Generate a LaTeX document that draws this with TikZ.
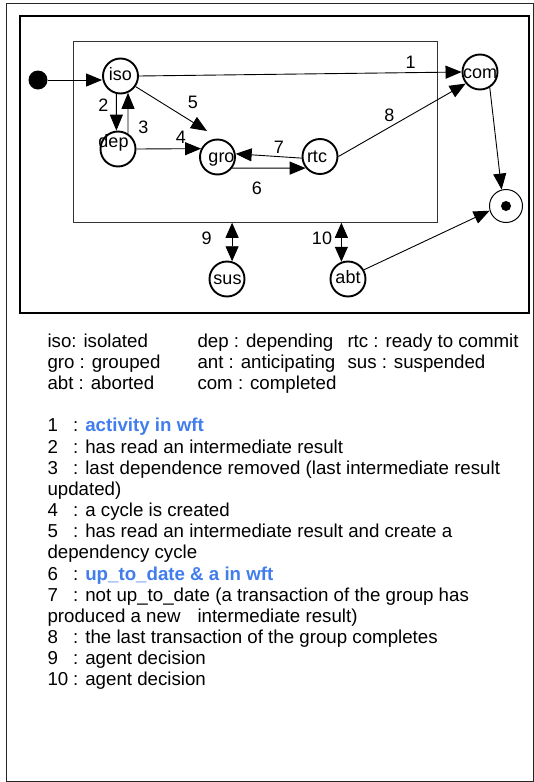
\documentclass[tikz,border=0pt]{standalone}
\usepackage{fontspec}
\setmainfont{Liberation Sans}
\usetikzlibrary{arrows.meta}
\definecolor{lblue}{RGB}{66,125,238}
\begin{document}
\begin{tikzpicture}[x=1pt,y=-1pt,
 st/.style={circle,draw,line width=1.9pt,minimum size=35pt,inner sep=0pt},
 lab/.style={anchor=base,inner sep=0pt,font=\fontsize{18}{18}\selectfont},
 num/.style={anchor=base,inner sep=0pt,font=\fontsize{18}{18}\selectfont},
 arr/.style={-{Triangle[length=16pt,width=13pt]},line width=0.9pt},
 darr/.style={{Triangle[length=15pt,width=13pt]}-{Triangle[length=15pt,width=13pt]},line width=0.9pt},
 leg/.style={anchor=base west,inner sep=0pt,font=\fontsize{18.7}{21}\selectfont}
]
\useasboundingbox (0,0) rectangle (534,782);
\fill[white] (0,0) rectangle (534,782);
% frames
\draw[line width=1pt,black!85] (6,3.5) rectangle (533.5,781);
\draw[line width=2pt] (20,16) rectangle (528.5,313);
\node[draw,line width=1pt,black!80,minimum width=364.4pt,minimum height=180.5pt,inner sep=0pt] (grp) at (255.5,132) {};
% states
\node[circle,fill,minimum size=19pt,inner sep=0pt] (ini) at (38,80) {};
\node[st] (iso) at (120.5,76) {};
\node[st] (dep) at (118,149) {};
\node[st] (gro) at (217.5,157) {};
\node[st] (rtc) at (320,156.5) {};
\node[st] (com) at (480,72) {};
\node[st] (sus) at (227,279) {};
\node[st] (abt) at (348,279) {};
\node[circle,draw,line width=1pt,minimum size=33pt,inner sep=0pt] (fin) at (506,206) {};
\node[circle,fill,minimum size=10pt,inner sep=0pt] (find) at (fin.center) {};
% state labels
\node[lab] (tiso) at (120.5,80.6) {iso};
\node[lab] (tdep) at (113.5,147.6) {dep};
\node[lab] (tgro) at (221.5,162.6) {gro};
\node[lab] (trtc) at (317,162.6) {rtc};
\node[lab] (tcom) at (480,78.6) {com};
\node[lab] (tsus) at (227.5,284.6) {sus};
\node[lab] (tabt) at (348,283.6) {abt};
% edges
\coordinate (g5) at (207,131);
\draw[arr] (ini.east) -- (ini.east -| iso.west);
\draw[arr] (iso.east) -- (com.west);
\draw[arr] (iso.257) -- (dep.95);
\draw[arr] (dep.57) -- (iso.294);
\draw[arr] (dep.east) -- (gro.153);
\draw[arr] (iso.-35) -- (g5);
\draw[arr] (gro.-37) -- (rtc.219);
\draw[arr] (rtc.185) -- (gro.10);
\draw[arr] (rtc.east) -- (com.219);
\draw[arr] (com.-58) -- (fin.105);
\draw[arr] (abt.30) -- (fin.196);
\draw[darr] (grp.south -| sus.74) -- (sus.74);
\draw[darr] (grp.south -| abt.111) -- (abt.111);
% edge labels
\node[num] (n1) at (410.7,68) {1};
\node[num] (n2) at (103.3,111) {2};
\node[num] (n3) at (143.3,133.5) {3};
\node[num] (n4) at (181,143.5) {4};
\node[num] (n5) at (193,108.7) {5};
\node[num] (n6) at (257,194.5) {6};
\node[num] (n7) at (279,153) {7};
\node[num] (n8) at (389.3,121) {8};
\node[num] (n9) at (206.7,244.5) {9};
\node[num] (n10) at (322,244.5) {10};
% legend
\node[leg] (a1) at (47.3,347.2) {iso: isolated};
\node[leg] (a2) at (197.3,347.2) {dep : depending};
\node[leg] (a3) at (347.3,347.2) {rtc : ready to commit};
\node[leg] (b1) at (47.3,368.4) {gro : grouped};
\node[leg] (b2) at (197.3,368.4) {ant : anticipating};
\node[leg] (b3) at (347.3,368.4) {sus : suspended};
\node[leg] (c1) at (47.3,389.5) {abt : aborted};
\node[leg] (c2) at (197.3,389.5) {com : completed};
\node[leg] (k1) at (47.3,431.9) {1};
\node[leg] (d1) at (73,431.9) {: \textcolor{lblue}{\bfseries activity in wft}};
\node[leg] (k2) at (47.3,453.1) {2};
\node[leg] (d2) at (73,453.1) {: has read an intermediate result};
\node[leg] (k3) at (47.3,474.2) {3};
\node[leg] (d3) at (73,474.2) {: last dependence removed (last intermediate result};
\node[leg] (d3b) at (47.3,495.4) {updated)};
\node[leg] (k4) at (47.3,516.6) {4};
\node[leg] (d4) at (73,516.6) {: a cycle is created};
\node[leg] (k5) at (47.3,537.7) {5};
\node[leg] (d5) at (73,537.7) {: has read an intermediate result and create a};
\node[leg] (d5b) at (47.3,558.9) {dependency cycle};
\node[leg] (k6) at (47.3,580.1) {6};
\node[leg] (d6) at (73,580.1) {: \textcolor{lblue}{\bfseries up\_to\_date \& a in wft}};
\node[leg] (k7) at (47.3,601.2) {7};
\node[leg] (d7) at (73,601.2) {: not up\_to\_date (a transaction of the group has};
\node[leg] (d7b) at (47.3,622.4) {produced a new};
\node[leg] (d7c) at (197.3,622.4) {intermediate result)};
\node[leg] (k8) at (47.3,643.6) {8};
\node[leg] (d8) at (73,643.6) {: the last transaction of the group completes};
\node[leg] (k9) at (47.3,664.8) {9};
\node[leg] (d9) at (73,664.8) {: agent decision};
\node[leg] (k10) at (47.3,685.9) {10};
\node[leg] (d10) at (73,685.9) {: agent decision};
\end{tikzpicture}
\end{document}
